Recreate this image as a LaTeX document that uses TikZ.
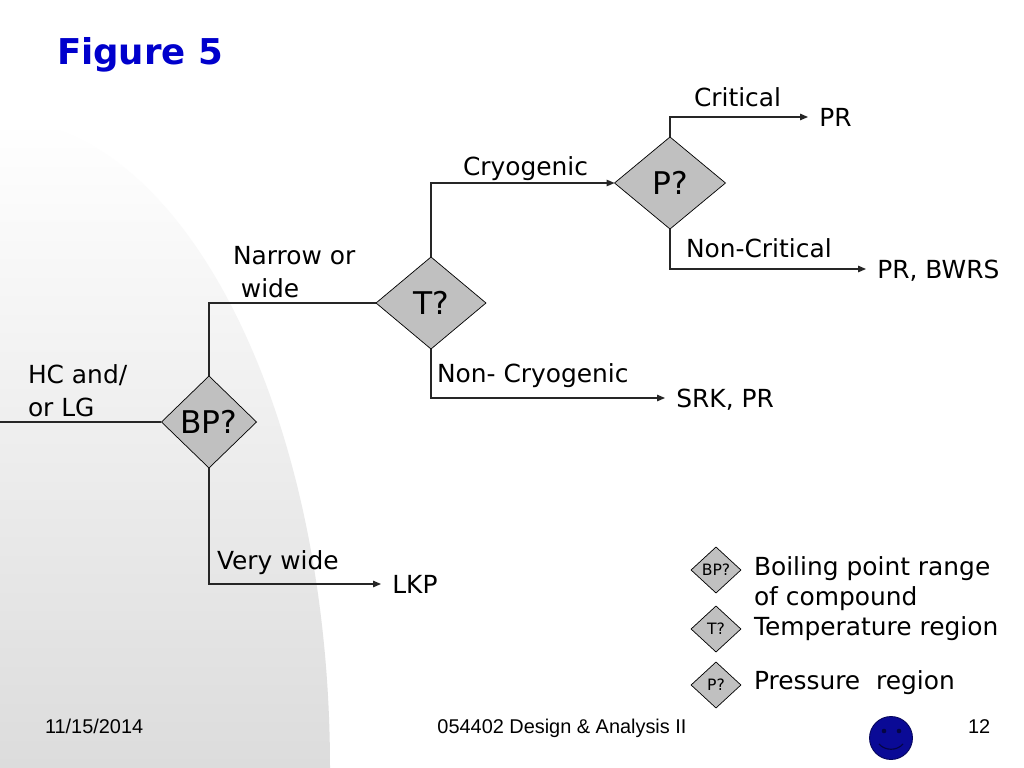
\documentclass[tikz,border=0pt]{standalone}
\usepackage{fontspec}
\setmainfont{DejaVu Sans}
\newfontfamily\footfont{Liberation Sans}
\usetikzlibrary{shapes.geometric,arrows.meta}
\definecolor{titleblue}{RGB}{0,0,204}
\definecolor{diafill}{RGB}{192,192,192}
\definecolor{smileblue}{RGB}{10,10,150}
\definecolor{bggray}{RGB}{220,220,220}

\begin{document}
\begin{tikzpicture}[x=0.703125pt,y=-0.703125pt,
    >={Triangle[length=5.5pt,width=4.5pt]},
    every node/.style={inner sep=0pt,outer sep=0pt},
    line/.style={line width=0.8pt,draw=black!85},
    dec/.style={diamond,draw=black,line width=0.5pt,fill=diafill,text depth=0pt,
        font=\fontsize{22}{25}\selectfont},
    key/.style={dec,minimum width=35pt,minimum height=32.3pt,
        font=\fontsize{11}{12}\selectfont},
    lbl/.style={anchor=base west,align=left,font=\fontsize{17.5}{23.2}\selectfont},
    result/.style={anchor=west,inner xsep=8pt,text depth=0pt,font=\fontsize{17.5}{20}\selectfont},
    foot/.style={anchor=base west,font=\footfont\fontsize{14}{16}\selectfont}]
    % slide background
    \useasboundingbox (0,0) rectangle (1024,768);
    \fill[white] (0,0) rectangle (1024,768);
    \shade[top color=white,bottom color=bggray] (0,120)
        arc[start angle=-90,end angle=0,x radius=330,y radius=648] -- (0,768) -- cycle;
    \node[lbl,text=titleblue,font=\bfseries\fontsize{25}{30}\selectfont] at (57,65) (title) {Figure 5};
    % decisions
    \node[dec,minimum width=66.8pt,minimum height=64.7pt] at (209,422) (bp) {BP?};
    \node[dec,minimum width=77.3pt,minimum height=64.7pt] at (431,303) (t) {T?};
    \node[dec,minimum width=78pt,minimum height=64.7pt] at (670,183) (p) {P?};
    % results
    \node[result] at (808,117) (pr) {PR};
    \node[result] at (866,269) (prbwrs) {PR, BWRS};
    \node[result] at (665,398) (srkpr) {SRK, PR};
    \node[result] at (381,584) (lkp) {LKP};
    \coordinate (feed) at (0,422);
    % branch labels (base = last line)
    \node[lbl] at (28,416) (hc) {HC and/\\or LG};
    \node[lbl] at (233,297) (narrow) {Narrow or\\\ wide};
    \node[lbl] at (217,569) (verywide) {Very wide};
    \node[lbl] at (463,176) (cryo) {Cryogenic};
    \node[lbl] at (437,382) (noncryo) {Non- Cryogenic};
    \node[lbl] at (694,107) (crit) {Critical};
    \node[lbl] at (686,258) (noncrit) {Non-Critical};
    % connectors
    \draw[line] (feed) -- (bp.west);
    \draw[line] (bp.north) |- (t.west);
    \draw[line,->] (bp.south) |- (lkp.west);
    \draw[line,->] (t.north) |- (p.west);
    \draw[line,->] (t.south) |- (srkpr.west);
    \draw[line,->] (p.north) |- (pr.west);
    \draw[line,->] (p.south) |- (prbwrs.west);
    % legend
    \node[key] at (716,570) (bpkey) {BP?};
    \node[key] at (716,629) (tkey) {T?};
    \node[key] at (716,685) (pkey) {P?};
    \node[lbl,font=\fontsize{17.5}{21}\selectfont] at (754,605) (bptext) {Boiling point range\\of compound};
    \node[lbl] at (754,635) (ttext) {Temperature region};
    \node[lbl] at (754,689) (ptext) {Pressure\ \ region};
    % footer
    \node[foot] at (45,733) (date) {11/15/2014};
    \node[foot,anchor=base] at (562,733) (course) {054402 Design \& Analysis II};
    \node[foot] at (968,733) (page) {12};
    \filldraw[fill=smileblue,draw=smileblue!60!black,line width=0.6pt] (891,738) circle[radius=21.5];
    \fill[smileblue!45!black] (884,731) circle[radius=2.3] (899,731) circle[radius=2.3];
    \draw[smileblue!45!black,line width=0.8pt] (879,744) .. controls (885,751) and (897,751) .. (903,744);
\end{tikzpicture}
\end{document}
